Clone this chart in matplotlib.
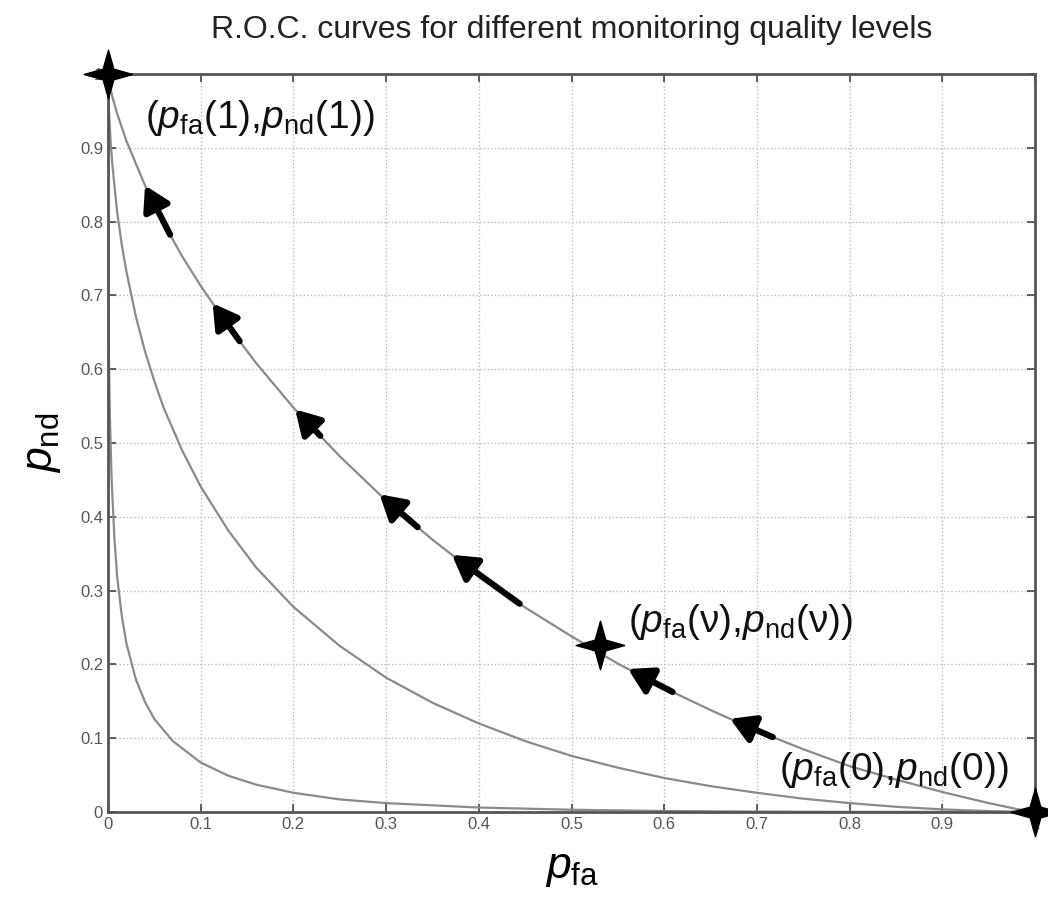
import numpy as np
import matplotlib
matplotlib.use("Agg")
import matplotlib.pyplot as plt

plt.rcParams["font.family"] = ["Liberation Sans", "DejaVu Sans"]
plt.rcParams["mathtext.fontset"] = "custom"
plt.rcParams["mathtext.rm"] = "Liberation Sans"
plt.rcParams["mathtext.it"] = "Liberation Sans:italic"
plt.rcParams["mathtext.bf"] = "Liberation Sans:bold"

# --- curves (p_fa, p_nd) ---
outer_pfa = [0.0, 0.001, 0.005, 0.01, 0.02, 0.04, 0.06, 0.08, 0.1, 0.13, 0.16, 0.2,
             0.25, 0.3, 0.35, 0.4, 0.45, 0.5, 0.55, 0.6, 0.65, 0.7, 0.75, 0.8,
             0.85, 0.9, 0.95, 0.98, 1.0]
outer_pnd = [1.0, 0.99, 0.968, 0.946, 0.909, 0.849, 0.798, 0.753, 0.713, 0.658, 0.608, 0.548,
             0.482, 0.422, 0.369, 0.320, 0.277, 0.238, 0.201, 0.168, 0.138, 0.110, 0.085, 0.062,
             0.044, 0.027, 0.012, 0.004, 0.0]

middle_pfa = [0.0, 0.0005, 0.001, 0.003, 0.005, 0.01, 0.015, 0.02, 0.03, 0.04, 0.05, 0.06,
              0.08, 0.1, 0.13, 0.16, 0.2, 0.25, 0.3, 0.35, 0.4, 0.45, 0.5, 0.55, 0.6, 0.65,
              0.7, 0.75, 0.8, 0.85, 0.9, 0.95, 1.0]
middle_pnd = [1.0, 0.97, 0.952, 0.906, 0.874, 0.812, 0.768, 0.732, 0.672, 0.624, 0.584, 0.548,
              0.490, 0.441, 0.381, 0.331, 0.278, 0.225, 0.182, 0.148, 0.120, 0.096, 0.076,
              0.060, 0.046, 0.035, 0.026, 0.018, 0.012, 0.007, 0.0035, 0.0012, 0.0]

inner_pfa = [0.0, 0.0005, 0.001, 0.002, 0.004, 0.007, 0.01, 0.015, 0.02, 0.03, 0.04, 0.05,
             0.07, 0.1, 0.13, 0.16, 0.2, 0.25, 0.3, 0.4, 0.5, 0.6, 0.7, 0.8, 1.0]
inner_pnd = [1.0, 0.70, 0.62, 0.54, 0.45, 0.37, 0.318, 0.265, 0.228, 0.180, 0.149, 0.126,
             0.096, 0.067, 0.049, 0.037, 0.026, 0.017, 0.012, 0.006, 0.003, 0.0013, 0.0005,
             0.0002, 0.0]

# arrows along the outer curve (tail p_fa -> head p_fa)
arrow_tail_pfa = [0.067, 0.142, 0.229, 0.334, 0.444, 0.609, 0.717]
arrow_head_pfa = [0.040, 0.113, 0.202, 0.293, 0.371, 0.561, 0.671]

# operating points marked with stars
star_pfa = [0.0, 0.531, 1.0]
star_pnd = [1.0, 0.226, 0.0]

labels = [r"$(p_{\rm fa}(1){,}p_{\rm nd}(1))$",
          r"$(p_{\rm fa}(\mathrm{ν}){,}p_{\rm nd}(\mathrm{ν}))$",
          r"$(p_{\rm fa}(0){,}p_{\rm nd}(0))$"]
label_pos = [(0.040, 0.940), (0.561, 0.258), (0.724, 0.057)]

ticks = np.round(np.arange(0, 1.01, 0.1), 1)
tick_labels = ["0"] + [f"{t:.1f}" for t in ticks[1:-1]] + ["1"]

fig = plt.figure(figsize=(10.48, 8.97), dpi=100)
ax = fig.add_axes([0.103, 0.0948, 0.8847, 0.8227])

curve_color = "#8a8a8a"
ax.plot(outer_pfa, outer_pnd, color=curve_color, lw=1.6)
ax.plot(middle_pfa, middle_pnd, color=curve_color, lw=1.6)
ax.plot(inner_pfa, inner_pnd, color=curve_color, lw=1.6)

for xt, xh in zip(arrow_tail_pfa, arrow_head_pfa):
    yt = np.interp(xt, outer_pfa, outer_pnd)
    yh = np.interp(xh, outer_pfa, outer_pnd)
    ax.annotate("", xy=(xh, yh), xytext=(xt, yt),
                arrowprops=dict(arrowstyle="-|>,head_length=0.85,head_width=0.5",
                                lw=4.5, color="black", mutation_scale=17,
                                shrinkA=0, shrinkB=0))

# four-pointed star marker
r_in = 0.22
star_verts = [(1, 0), (r_in, r_in), (0, 1), (-r_in, r_in), (-1, 0),
              (-r_in, -r_in), (0, -1), (r_in, -r_in), (1, 0)]
ax.plot(star_pfa, star_pnd, linestyle="none", marker=star_verts,
        markersize=35, color="black", clip_on=False, zorder=5)

for txt, (tx, ty) in zip(labels, label_pos):
    ax.text(tx, ty, txt, fontsize=28, va="center", ha="left", color="#111111")

ax.set_xlim(0, 1)
ax.set_ylim(0, 1)
ax.set_xticks(ticks)
ax.set_yticks(ticks)
ax.set_xticklabels(tick_labels)
ax.set_yticklabels(tick_labels)
ax.tick_params(direction="in", top=True, right=True, length=6, width=1.2,
               labelsize=12, colors="#444444", labelcolor="#555555")
ax.grid(True, linestyle=":", color="#bbbbbb", lw=1)
for s in ax.spines.values():
    s.set_color("#555555")
    s.set_linewidth(2)

ax.set_xlabel(r"$p_{\rm fa}$", fontsize=32, labelpad=12)
ax.set_ylabel(r"$p_{\rm nd}$", fontsize=32, labelpad=12)
ax.set_title("R.O.C. curves for different monitoring quality levels",
             fontsize=23, pad=26, color="#222222")

fig.savefig("out.png", dpi=100)
